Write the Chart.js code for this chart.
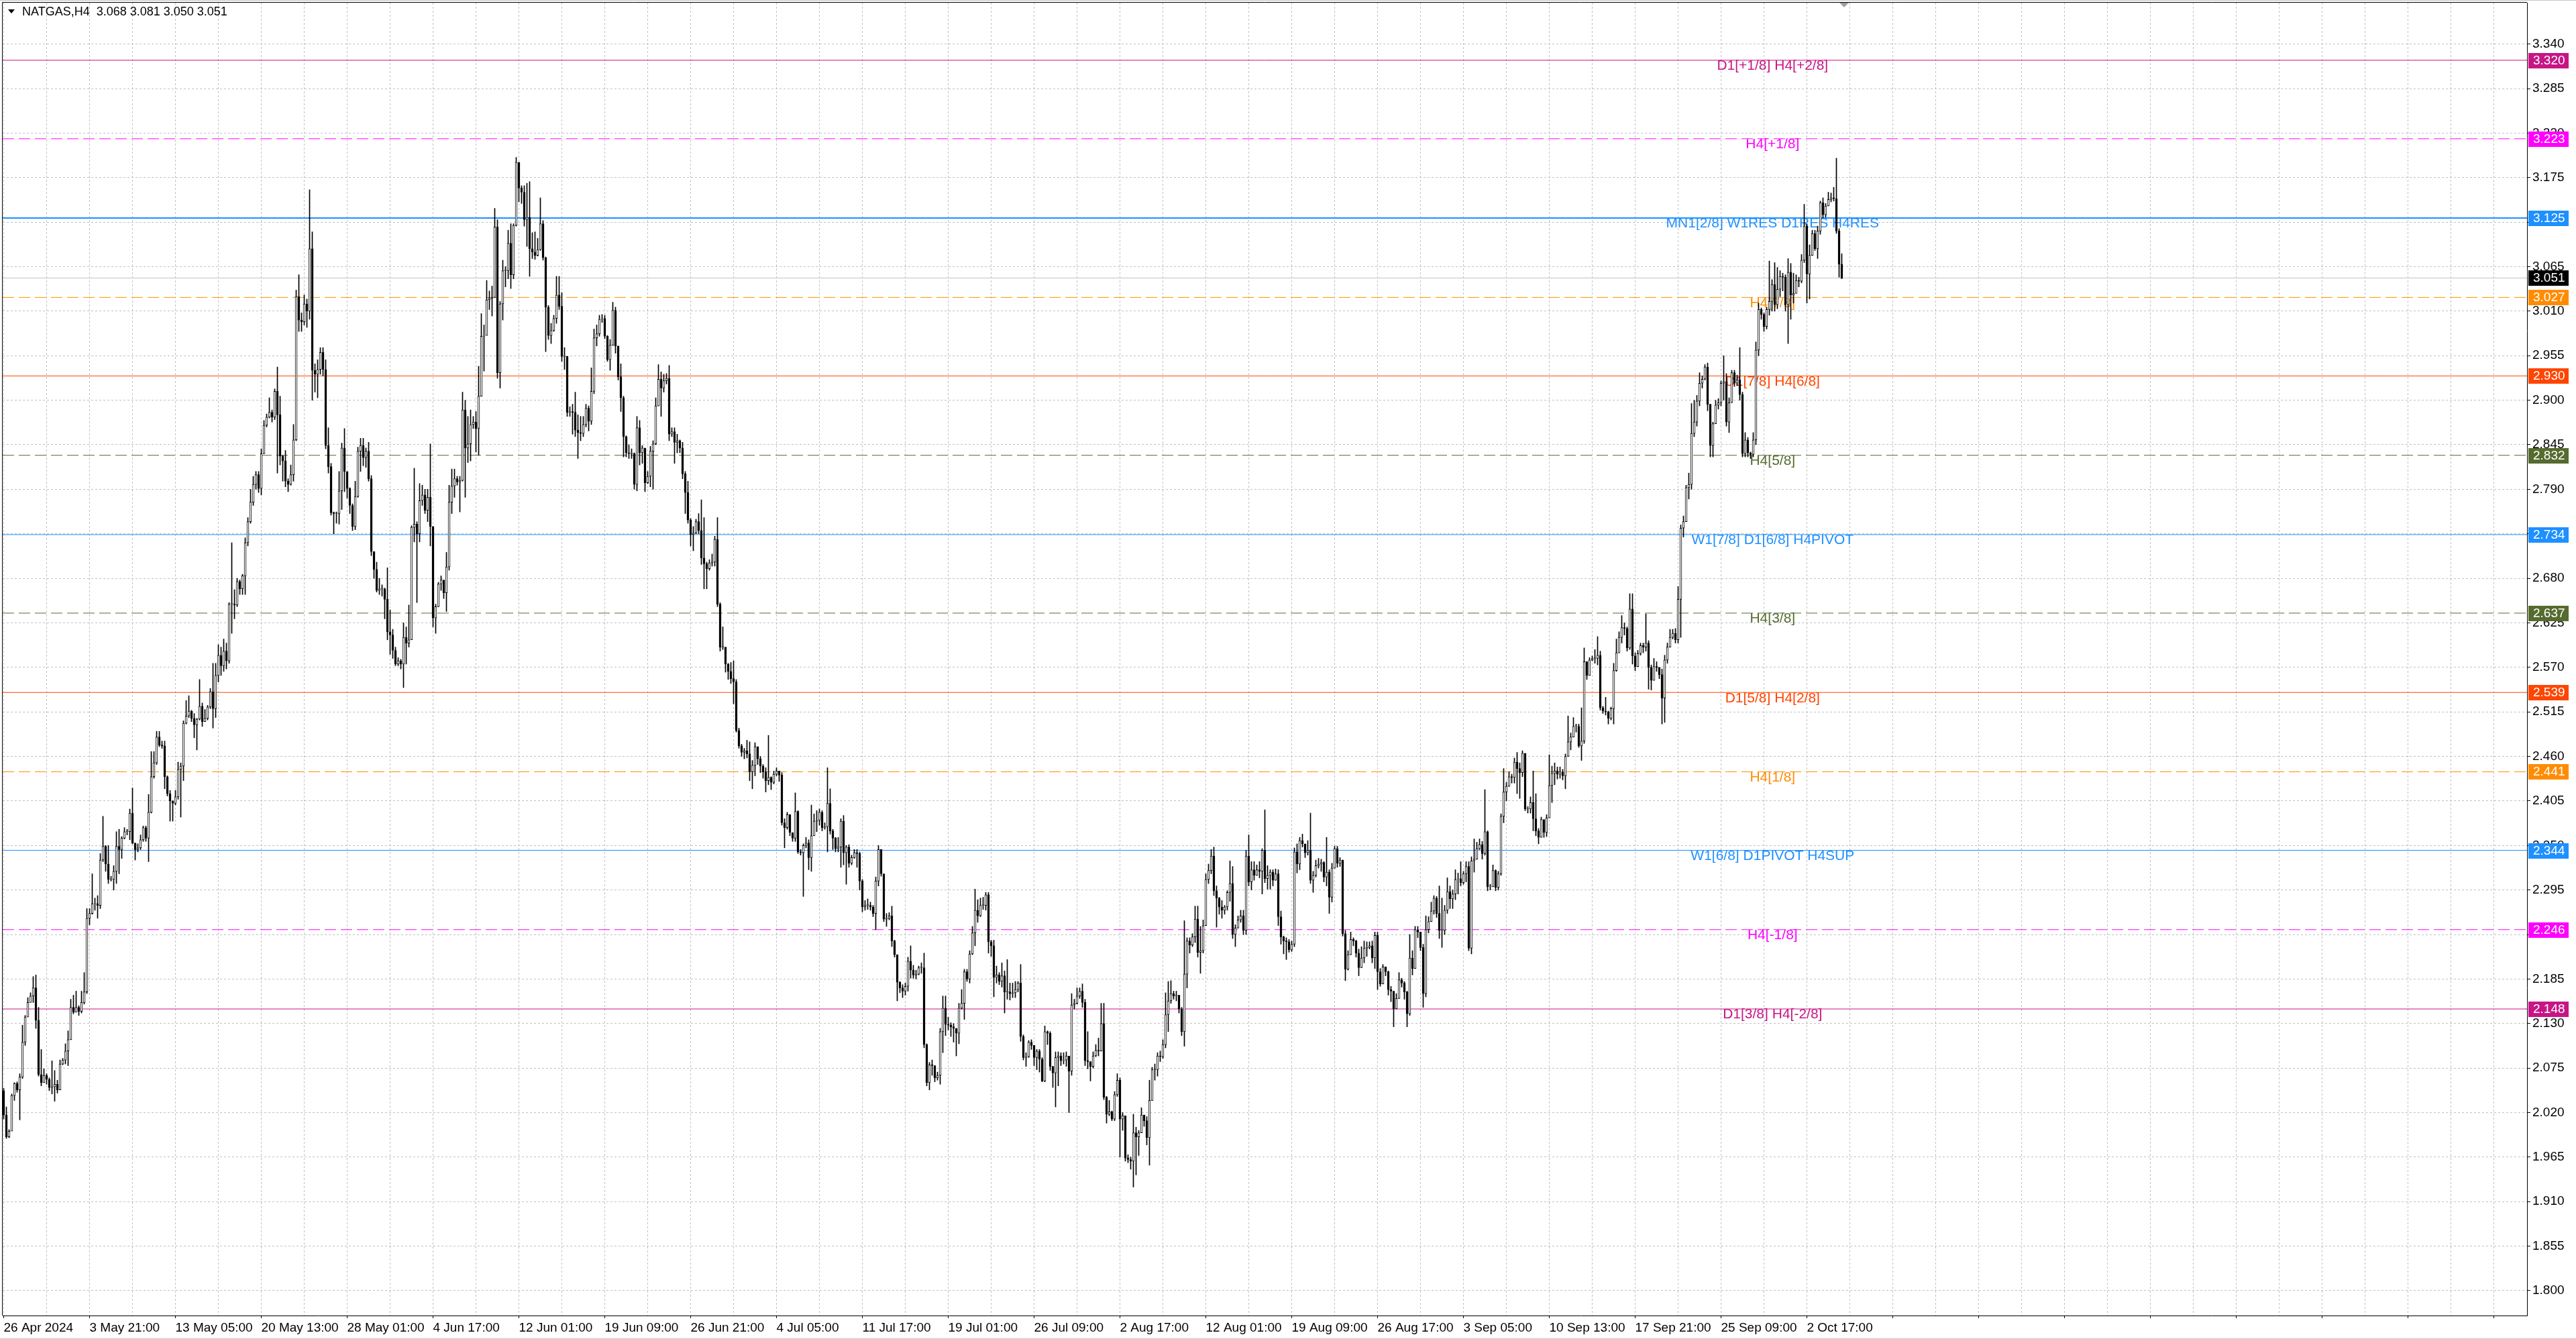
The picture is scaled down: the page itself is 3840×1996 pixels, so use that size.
<!DOCTYPE html>
<html>
<head>
<meta charset="utf-8">
<script src="https://cdn.jsdelivr.net/npm/chart.js@4.4.1/dist/chart.umd.min.js"></script>
<style>
html, body { margin: 0; padding: 0; background: #fff; overflow: hidden; }
#wrap { position: relative; width: 3840px; height: 1996px; }
</style>
</head>
<body>
<div id="wrap"><canvas id="priceChart"></canvas></div>
<script>
// NATGAS H4 candles (open = previous close)
var firstOpen = 2.047;

var closes = [
  2.017,1.990,1.997,2.041,2.056,2.048,2.064,2.107,2.138,2.156,
  2.164,2.174,2.134,2.067,2.057,2.066,2.061,2.051,2.052,2.055,
  2.048,2.080,2.085,2.096,2.110,2.150,2.144,2.150,2.145,2.156,
  2.169,2.260,2.266,2.278,2.278,2.276,2.332,2.349,2.327,2.308,
  2.308,2.318,2.349,2.345,2.359,2.367,2.367,2.390,2.353,2.345,
  2.347,2.357,2.372,2.359,2.391,2.435,2.452,2.484,2.474,2.473,
  2.435,2.414,2.405,2.402,2.410,2.444,2.448,2.501,2.510,2.516,
  2.507,2.499,2.506,2.522,2.503,2.507,2.521,2.540,2.519,2.560,
  2.585,2.572,2.590,2.578,2.648,2.648,2.647,2.676,2.667,2.683,
  2.724,2.750,2.774,2.796,2.808,2.791,2.834,2.869,2.879,2.885,
  2.879,2.911,2.882,2.831,2.825,2.800,2.796,2.808,2.851,3.028,
  2.999,2.997,3.019,3.010,3.087,2.937,2.932,2.938,2.959,2.938,
  2.844,2.818,2.761,2.760,2.760,2.788,2.841,2.812,2.791,2.770,
  2.744,2.781,2.837,2.844,2.829,2.837,2.803,2.713,2.691,2.665,
  2.667,2.667,2.654,2.614,2.610,2.591,2.574,2.578,2.574,2.607,
  2.600,2.604,2.743,2.747,2.735,2.776,2.783,2.764,2.780,2.744,
  2.631,2.645,2.673,2.678,2.662,2.694,2.774,2.794,2.803,2.799,
  2.801,2.888,2.841,2.846,2.870,2.873,2.865,2.905,2.979,2.980,
  3.024,3.026,3.027,3.114,2.934,3.019,3.060,3.060,3.094,3.055,
  3.116,3.194,3.162,3.157,3.123,3.126,3.087,3.083,3.079,3.086,
  3.118,3.076,3.015,2.980,2.986,3.001,3.030,3.016,2.954,2.954,
  2.885,2.886,2.885,2.863,2.860,2.859,2.870,2.890,2.874,2.911,
  2.977,2.982,3.000,3.001,2.979,2.950,2.968,3.011,2.967,2.929,
  2.903,2.855,2.835,2.834,2.834,2.796,2.866,2.835,2.841,2.798,
  2.806,2.837,2.846,2.893,2.926,2.915,2.924,2.927,2.858,2.861,
  2.848,2.850,2.841,2.809,2.786,2.752,2.734,2.736,2.750,2.739,
  2.705,2.698,2.692,2.699,2.700,2.728,2.648,2.595,2.595,2.574,
  2.565,2.556,2.552,2.492,2.473,2.465,2.467,2.463,2.441,2.449,
  2.472,2.457,2.448,2.441,2.430,2.434,2.428,2.438,2.442,2.437,
  2.378,2.372,2.388,2.366,2.359,2.392,2.342,2.341,2.350,2.353,
  2.335,2.362,2.380,2.381,2.391,2.372,2.373,2.402,2.368,2.359,
  2.346,2.348,2.380,2.341,2.348,2.328,2.335,2.341,2.340,2.306,
  2.274,2.276,2.276,2.274,2.266,2.306,2.345,2.315,2.259,2.260,
  2.263,2.232,2.215,2.181,2.174,2.170,2.176,2.207,2.196,2.190,
  2.191,2.199,2.199,2.104,2.057,2.079,2.078,2.063,2.066,2.120,
  2.149,2.129,2.128,2.126,2.124,2.118,2.149,2.155,2.194,2.185,
  2.216,2.242,2.270,2.263,2.276,2.276,2.289,2.231,2.226,2.187,
  2.190,2.182,2.189,2.169,2.169,2.167,2.168,2.172,2.180,2.114,
  2.088,2.089,2.107,2.103,2.088,2.096,2.086,2.059,2.120,2.118,
  2.077,2.069,2.088,2.090,2.084,2.085,2.090,2.071,2.153,2.155,
  2.164,2.170,2.156,2.084,2.083,2.077,2.090,2.097,2.096,2.130,
  2.039,2.018,2.021,2.012,2.042,2.060,2.012,2.016,1.964,1.962,
  1.960,1.995,1.990,1.995,2.017,2.010,1.989,2.035,2.073,2.073,
  2.090,2.089,2.104,2.141,2.158,2.167,2.164,2.165,2.148,2.120,
  2.191,2.232,2.227,2.237,2.259,2.218,2.220,2.251,2.308,2.319,
  2.337,2.294,2.285,2.274,2.270,2.274,2.292,2.303,2.240,2.248,
  2.258,2.263,2.245,2.337,2.305,2.320,2.313,2.320,2.318,2.344,
  2.309,2.313,2.317,2.307,2.315,2.262,2.237,2.232,2.231,2.221,
  2.228,2.342,2.327,2.356,2.352,2.341,2.344,2.307,2.313,2.325,
  2.327,2.329,2.311,2.317,2.286,2.322,2.346,2.328,2.332,2.241,
  2.197,2.215,2.234,2.232,2.217,2.199,2.211,2.223,2.224,2.226,
  2.211,2.239,2.194,2.179,2.200,2.194,2.172,2.170,2.148,2.161,
  2.184,2.180,2.169,2.142,2.211,2.198,2.246,2.243,2.224,2.167,
  2.246,2.256,2.269,2.285,2.266,2.245,2.245,2.270,2.293,2.284,
  2.290,2.308,2.309,2.304,2.315,2.324,2.223,2.331,2.333,2.346,
  2.351,2.340,2.367,2.299,2.299,2.319,2.298,2.315,2.386,2.416,
  2.423,2.435,2.434,2.453,2.445,2.440,2.464,2.395,2.395,2.403,
  2.383,2.368,2.360,2.382,2.366,2.384,2.424,2.439,2.442,2.438,
  2.441,2.436,2.460,2.478,2.484,2.497,2.497,2.473,2.479,2.577,
  2.560,2.579,2.581,2.581,2.585,2.520,2.516,2.515,2.507,2.519,
  2.566,2.588,2.607,2.619,2.618,2.594,2.642,2.584,2.571,2.587,
  2.597,2.595,2.600,2.570,2.554,2.571,2.570,2.561,2.532,2.579,
  2.595,2.607,2.612,2.604,2.654,2.742,2.750,2.792,2.796,2.859,
  2.873,2.899,2.921,2.926,2.941,2.895,2.844,2.871,2.894,2.897,
  2.921,2.923,2.873,2.897,2.934,2.921,2.925,2.907,2.834,2.851,
  2.835,2.833,2.851,2.962,3.012,3.006,2.991,3.012,3.022,3.043,
  3.018,3.037,3.053,3.052,3.018,3.058,3.030,3.032,3.048,3.047,
  3.073,3.115,3.056,3.079,3.106,3.087,3.109,3.144,3.129,3.140,
  3.148,3.150,3.149,3.109,3.068,3.051
];

var highs = [
  2.050,2.027,1.999,2.043,2.057,2.058,2.068,2.128,2.140,2.162,
  2.168,2.188,2.190,2.150,2.098,2.074,2.068,2.063,2.084,2.072,
  2.060,2.085,2.087,2.105,2.121,2.160,2.165,2.170,2.152,2.170,
  2.193,2.272,2.272,2.315,2.285,2.288,2.340,2.386,2.350,2.350,
  2.312,2.325,2.367,2.370,2.361,2.372,2.370,2.395,2.421,2.352,
  2.352,2.363,2.374,2.374,2.413,2.466,2.466,2.491,2.491,2.479,
  2.479,2.436,2.418,2.405,2.418,2.453,2.452,2.504,2.529,2.535,
  2.517,2.513,2.507,2.555,2.526,2.518,2.523,2.544,2.575,2.575,
  2.598,2.595,2.605,2.600,2.650,2.724,2.666,2.680,2.678,2.685,
  2.730,2.755,2.790,2.806,2.812,2.812,2.840,2.875,2.883,2.903,
  2.888,2.914,2.941,2.905,2.832,2.838,2.803,2.820,2.870,3.036,
  3.055,3.008,3.030,3.025,3.160,3.108,2.945,2.950,2.965,2.965,
  2.950,2.866,2.822,2.762,2.762,2.812,2.847,2.865,2.808,2.792,
  2.772,2.800,2.842,2.853,2.853,2.841,2.848,2.807,2.713,2.700,
  2.680,2.672,2.668,2.693,2.641,2.617,2.595,2.582,2.580,2.625,
  2.620,2.647,2.745,2.816,2.750,2.797,2.795,2.790,2.790,2.846,
  2.744,2.648,2.675,2.683,2.675,2.712,2.795,2.815,2.815,2.806,
  2.806,2.910,2.900,2.880,2.888,2.880,2.886,2.942,3.007,2.993,
  3.048,3.035,3.041,3.137,3.123,3.022,3.073,3.065,3.110,3.118,
  3.118,3.200,3.170,3.165,3.165,3.168,3.170,3.107,3.108,3.100,
  3.150,3.122,3.077,3.017,2.995,3.005,3.053,3.053,3.033,2.965,
  2.903,2.892,2.895,2.910,2.882,2.880,2.880,2.895,2.893,2.940,
  2.988,2.993,3.005,3.006,3.005,2.980,2.975,3.021,3.015,2.967,
  2.945,2.905,2.856,2.845,2.840,2.835,2.880,2.875,2.844,2.801,
  2.812,2.843,2.850,2.903,2.944,2.935,2.932,2.933,2.943,2.866,
  2.866,2.858,2.851,2.848,2.812,2.800,2.754,2.744,2.753,2.760,
  2.777,2.755,2.700,2.703,2.710,2.732,2.755,2.650,2.620,2.586,
  2.575,2.576,2.578,2.555,2.495,2.475,2.470,2.480,2.478,2.455,
  2.477,2.472,2.460,2.450,2.446,2.486,2.435,2.442,2.446,2.442,
  2.440,2.383,2.391,2.380,2.364,2.415,2.393,2.345,2.352,2.360,
  2.357,2.400,2.389,2.393,2.395,2.393,2.378,2.446,2.420,2.370,
  2.360,2.360,2.383,2.387,2.350,2.351,2.338,2.345,2.345,2.342,
  2.308,2.282,2.284,2.280,2.276,2.311,2.350,2.342,2.273,2.266,
  2.267,2.275,2.233,2.215,2.182,2.178,2.180,2.212,2.226,2.202,
  2.196,2.201,2.205,2.217,2.105,2.082,2.085,2.078,2.070,2.124,
  2.164,2.164,2.138,2.131,2.130,2.124,2.155,2.172,2.197,2.197,
  2.220,2.250,2.296,2.283,2.285,2.286,2.292,2.292,2.233,2.233,
  2.201,2.193,2.205,2.195,2.209,2.180,2.180,2.182,2.182,2.203,
  2.116,2.094,2.109,2.110,2.102,2.098,2.098,2.088,2.127,2.121,
  2.120,2.077,2.095,2.095,2.094,2.094,2.095,2.089,2.167,2.160,
  2.174,2.174,2.179,2.160,2.120,2.083,2.095,2.104,2.112,2.155,
  2.155,2.040,2.035,2.022,2.046,2.068,2.063,2.020,1.996,1.968,
  1.965,2.018,2.002,1.998,2.026,2.017,2.015,2.060,2.076,2.080,
  2.094,2.096,2.110,2.168,2.182,2.183,2.170,2.170,2.165,2.150,
  2.257,2.236,2.236,2.241,2.275,2.275,2.250,2.258,2.315,2.327,
  2.345,2.348,2.300,2.286,2.282,2.276,2.294,2.331,2.324,2.252,
  2.263,2.270,2.270,2.344,2.363,2.330,2.330,2.326,2.330,2.346,
  2.394,2.325,2.320,2.320,2.321,2.320,2.269,2.238,2.236,2.234,
  2.232,2.347,2.352,2.360,2.364,2.351,2.356,2.390,2.318,2.332,
  2.334,2.333,2.330,2.360,2.320,2.328,2.349,2.349,2.335,2.332,
  2.245,2.220,2.243,2.236,2.233,2.222,2.225,2.232,2.231,2.231,
  2.232,2.243,2.243,2.198,2.203,2.200,2.195,2.176,2.170,2.167,
  2.193,2.186,2.182,2.170,2.240,2.220,2.250,2.250,2.242,2.228,
  2.263,2.262,2.280,2.288,2.287,2.300,2.285,2.276,2.310,2.300,
  2.295,2.320,2.316,2.330,2.318,2.330,2.330,2.336,2.358,2.354,
  2.358,2.355,2.419,2.368,2.302,2.326,2.320,2.318,2.389,2.445,
  2.428,2.441,2.438,2.458,2.465,2.452,2.467,2.410,2.398,2.410,
  2.442,2.414,2.371,2.385,2.373,2.388,2.462,2.448,2.452,2.447,
  2.447,2.444,2.463,2.510,2.489,2.508,2.500,2.500,2.520,2.594,
  2.575,2.582,2.584,2.592,2.608,2.590,2.522,2.533,2.516,2.521,
  2.575,2.605,2.614,2.634,2.625,2.620,2.661,2.661,2.588,2.591,
  2.600,2.600,2.636,2.603,2.573,2.581,2.577,2.570,2.568,2.585,
  2.600,2.617,2.617,2.618,2.670,2.746,2.757,2.795,2.810,2.896,
  2.900,2.906,2.934,2.930,2.944,2.946,2.895,2.873,2.900,2.902,
  2.924,2.955,2.933,2.903,2.937,2.937,2.931,2.965,2.910,2.860,
  2.854,2.836,2.860,2.972,3.020,3.014,3.008,3.015,3.072,3.049,
  3.070,3.064,3.060,3.057,3.055,3.075,3.069,3.057,3.055,3.052,
  3.080,3.142,3.118,3.092,3.110,3.110,3.115,3.146,3.150,3.143,
  3.157,3.156,3.163,3.199,3.112,3.081
];

var lows = [
  2.012,1.988,1.989,2.015,2.035,2.045,2.011,2.062,2.103,2.141,
  2.157,2.156,2.124,2.065,2.053,2.059,2.055,2.047,2.043,2.034,
  2.044,2.059,2.079,2.080,2.078,2.110,2.142,2.145,2.140,2.143,
  2.154,2.167,2.252,2.265,2.270,2.260,2.272,2.330,2.318,2.303,
  2.306,2.295,2.303,2.315,2.334,2.358,2.363,2.357,2.352,2.332,
  2.342,2.345,2.355,2.355,2.330,2.390,2.433,2.450,2.472,2.470,
  2.420,2.411,2.380,2.380,2.400,2.407,2.385,2.430,2.500,2.508,
  2.503,2.483,2.468,2.505,2.497,2.503,2.505,2.519,2.495,2.508,
  2.552,2.560,2.565,2.568,2.575,2.612,2.630,2.645,2.660,2.660,
  2.660,2.720,2.748,2.770,2.790,2.786,2.783,2.834,2.867,2.878,
  2.873,2.876,2.810,2.820,2.800,2.793,2.787,2.795,2.800,2.850,
  2.985,2.985,2.993,2.990,3.000,2.900,2.910,2.903,2.932,2.930,
  2.840,2.810,2.758,2.735,2.748,2.747,2.765,2.787,2.779,2.760,
  2.739,2.740,2.780,2.812,2.819,2.817,2.800,2.708,2.680,2.663,
  2.660,2.658,2.630,2.604,2.586,2.581,2.572,2.572,2.568,2.545,
  2.574,2.595,2.700,2.725,2.650,2.725,2.770,2.760,2.750,2.720,
  2.620,2.612,2.645,2.665,2.655,2.639,2.690,2.760,2.780,2.795,
  2.762,2.800,2.780,2.823,2.825,2.865,2.836,2.832,2.905,2.936,
  2.995,3.012,3.004,3.027,2.927,2.915,2.999,3.040,3.050,3.038,
  3.050,3.115,3.145,3.143,3.115,3.090,3.053,3.075,3.074,3.078,
  3.085,3.073,2.960,2.975,2.970,2.985,2.995,3.012,2.948,2.938,
  2.880,2.880,2.858,2.855,2.828,2.850,2.855,2.867,2.862,2.870,
  2.908,2.967,2.979,2.996,2.976,2.948,2.937,2.968,2.958,2.925,
  2.886,2.830,2.830,2.828,2.828,2.790,2.788,2.820,2.822,2.787,
  2.797,2.793,2.790,2.845,2.893,2.880,2.910,2.920,2.850,2.855,
  2.822,2.835,2.835,2.803,2.760,2.748,2.720,2.714,2.735,2.735,
  2.697,2.667,2.667,2.690,2.695,2.695,2.645,2.590,2.592,2.564,
  2.555,2.550,2.525,2.490,2.470,2.460,2.457,2.458,2.430,2.420,
  2.436,2.450,2.440,2.433,2.416,2.425,2.419,2.426,2.436,2.429,
  2.375,2.347,2.370,2.362,2.355,2.355,2.340,2.338,2.287,2.347,
  2.320,2.318,2.362,2.367,2.375,2.368,2.370,2.342,2.364,2.345,
  2.342,2.342,2.323,2.326,2.302,2.323,2.326,2.334,2.323,2.295,
  2.268,2.270,2.271,2.270,2.262,2.246,2.300,2.312,2.256,2.250,
  2.258,2.225,2.212,2.158,2.168,2.162,2.165,2.170,2.186,2.186,
  2.185,2.190,2.192,2.100,2.053,2.048,2.066,2.058,2.060,2.055,
  2.094,2.115,2.122,2.114,2.107,2.090,2.105,2.148,2.135,2.182,
  2.180,2.215,2.226,2.255,2.262,2.271,2.270,2.217,2.213,2.163,
  2.180,2.178,2.175,2.143,2.160,2.159,2.162,2.162,2.169,2.108,
  2.085,2.077,2.088,2.098,2.078,2.073,2.070,2.058,2.058,2.104,
  2.072,2.051,2.027,2.053,2.078,2.080,2.077,2.020,2.066,2.148,
  2.154,2.161,2.150,2.078,2.074,2.059,2.075,2.089,2.090,2.096,
  2.036,2.007,2.016,2.010,2.010,2.040,1.965,1.998,1.960,1.958,
  1.950,1.928,1.943,1.967,1.995,2.003,1.980,1.955,2.035,2.060,
  2.065,2.083,2.087,2.100,2.120,2.155,2.160,2.158,2.143,2.115,
  2.102,2.174,2.217,2.225,2.230,2.212,2.192,2.217,2.251,2.303,
  2.315,2.288,2.249,2.265,2.260,2.265,2.270,2.281,2.235,2.225,
  2.248,2.255,2.240,2.240,2.300,2.295,2.307,2.313,2.310,2.290,
  2.304,2.296,2.296,2.300,2.307,2.251,2.228,2.216,2.209,2.218,
  2.219,2.225,2.316,2.320,2.348,2.335,2.338,2.303,2.292,2.311,
  2.322,2.318,2.305,2.300,2.266,2.280,2.322,2.323,2.324,2.238,
  2.183,2.196,2.215,2.226,2.212,2.189,2.199,2.205,2.213,2.222,
  2.205,2.198,2.172,2.176,2.179,2.189,2.165,2.157,2.126,2.148,
  2.161,2.175,2.160,2.126,2.140,2.190,2.198,2.236,2.220,2.150,
  2.163,2.242,2.256,2.265,2.261,2.235,2.224,2.240,2.266,2.272,
  2.272,2.283,2.290,2.300,2.302,2.305,2.220,2.216,2.317,2.333,
  2.345,2.333,2.338,2.294,2.295,2.299,2.294,2.295,2.313,2.378,
  2.405,2.423,2.427,2.427,2.414,2.408,2.435,2.393,2.390,2.390,
  2.368,2.362,2.352,2.360,2.360,2.361,2.384,2.403,2.425,2.432,
  2.433,2.431,2.420,2.460,2.468,2.484,2.490,2.471,2.455,2.476,
  2.555,2.560,2.578,2.575,2.573,2.517,2.513,2.511,2.500,2.505,
  2.500,2.565,2.588,2.600,2.610,2.590,2.592,2.574,2.566,2.571,
  2.585,2.588,2.590,2.543,2.542,2.554,2.565,2.556,2.500,2.502,
  2.575,2.595,2.605,2.600,2.600,2.607,2.731,2.750,2.778,2.790,
  2.855,2.868,2.893,2.915,2.925,2.887,2.830,2.830,2.871,2.889,
  2.893,2.900,2.868,2.860,2.897,2.917,2.918,2.900,2.830,2.830,
  2.830,2.828,2.830,2.845,2.955,3.000,2.985,2.988,3.005,3.010,
  3.010,3.013,3.028,3.035,3.010,2.970,3.000,3.020,3.040,3.040,
  3.045,3.070,3.020,3.025,3.080,3.085,3.075,3.105,3.125,3.126,
  3.140,3.145,3.146,3.106,3.052,3.050
];

// one label every 32 bars
var timeLabels = [
  '26 Apr 2024', '3 May 21:00', '13 May 05:00', '20 May 13:00', '28 May 01:00',
  '4 Jun 17:00', '12 Jun 01:00', '19 Jun 09:00', '26 Jun 21:00', '4 Jul 05:00',
  '11 Jul 17:00', '19 Jul 01:00', '26 Jul 09:00', '2 Aug 17:00', '12 Aug 01:00',
  '19 Aug 09:00', '26 Aug 17:00', '3 Sep 05:00', '10 Sep 13:00', '17 Sep 21:00',
  '25 Sep 09:00', '2 Oct 17:00'
];

var priceTicks = [
  1.800, 1.855, 1.910, 1.965, 2.020, 2.075, 2.130, 2.185, 2.240, 2.295,
  2.350, 2.405, 2.460, 2.515, 2.570, 2.625, 2.680, 2.735, 2.790, 2.845,
  2.900, 2.955, 3.010, 3.065, 3.120, 3.175, 3.230, 3.285, 3.340
];

// Murrey math levels
var levelPrices = [3.320, 3.223, 3.125, 3.027, 2.930, 2.832, 2.734, 2.637, 2.539, 2.441, 2.344, 2.246, 2.148];
var levelNames = [
  'D1[+1/8] H4[+2/8]', 'H4[+1/8]', 'MN1[2/8] W1RES D1RES H4RES', 'H4[7/8]',
  'D1[7/8] H4[6/8]', 'H4[5/8]', 'W1[7/8] D1[6/8] H4PIVOT', 'H4[3/8]',
  'D1[5/8] H4[2/8]', 'H4[1/8]', 'W1[6/8] D1PIVOT H4SUP', 'H4[-1/8]', 'D1[3/8] H4[-2/8]'
];
var lastPrice = 3.051;

// styles
var levelColors = ['#C71585', '#FF00FF', '#1E90FF', '#FF8C00', '#FF4500', '#556B2F', '#1E90FF',
                   '#556B2F', '#FF4500', '#FF8C00', '#1E90FF', '#FF00FF', '#C71585'];
var levelDashed = [false, true, false, true, false, true, false, true, false, true, false, true, false];
var levelWidth = [1, 1, 2, 1, 1, 1, 1, 1, 1, 1, 1, 1, 1];

var X_MIN = -0.375, X_MAX = 940.375;
var LABEL_BAR = 659.2;
var FONT = '"Liberation Sans", Arial, sans-serif';

var opens = closes.map(function (c, i) { return i === 0 ? firstOpen : closes[i - 1]; });
var bodies = closes.map(function (c, i) { return { x: i, y: [opens[i], c] }; });
var wicks = closes.map(function (c, i) { return { x: i, y: [lows[i], highs[i]] }; });
var bodyFill = closes.map(function (c, i) { return c >= opens[i] ? '#ffffff' : '#000000'; });

var datasets = [
  {
    type: 'bar', data: bodies, backgroundColor: bodyFill, borderColor: '#000000',
    borderWidth: 1, borderSkipped: false, barThickness: 3, minBarLength: 1,
    grouped: false, order: 0
  },
  {
    type: 'bar', data: wicks, backgroundColor: '#000000', borderWidth: 0,
    barThickness: 1, grouped: false, order: 1
  }
];

levelPrices.forEach(function (p, k) {
  datasets.push({
    type: 'line', data: [{ x: X_MIN, y: p }, { x: X_MAX, y: p }],
    borderColor: levelColors[k], borderWidth: levelWidth[k],
    borderDash: levelDashed[k] ? [17, 7] : [], pointRadius: 0, order: 2
  });
});
datasets.push({
  type: 'line', data: [{ x: X_MIN, y: lastPrice }, { x: X_MAX, y: lastPrice }],
  borderColor: '#C0C0C0', borderWidth: 1, pointRadius: 0, order: 3
});

var overlay = {
  id: 'overlay',
  beforeDatasetsDraw: function (chart) {
    var ctx = chart.ctx, x = chart.scales.x, y = chart.scales.y;
    ctx.save();
    ctx.font = '21px ' + FONT;
    ctx.textAlign = 'center';
    ctx.textBaseline = 'top';
    levelPrices.forEach(function (p, k) {
      ctx.fillStyle = levelColors[k];
      ctx.fillText(levelNames[k], x.getPixelForValue(LABEL_BAR), y.getPixelForValue(p) - 2);
    });
    ctx.restore();
  },
  afterDraw: function (chart) {
    var ctx = chart.ctx, area = chart.chartArea, y = chart.scales.y;
    ctx.save();
    // frame
    ctx.strokeStyle = '#000000';
    ctx.lineWidth = 1;
    ctx.beginPath();
    ctx.moveTo(3.5, area.bottom);
    ctx.lineTo(3.5, 3.5);
    ctx.lineTo(area.right, 3.5);
    ctx.stroke();
    ctx.strokeStyle = '#C8C8C8';
    ctx.beginPath();
    ctx.moveTo(0, 0.5); ctx.lineTo(3840, 0.5);
    ctx.moveTo(0, 1995.5); ctx.lineTo(3840, 1995.5);
    ctx.stroke();

    // shift marker
    ctx.fillStyle = '#A0A0A0';
    ctx.beginPath();
    ctx.moveTo(2742, 4); ctx.lineTo(2756, 4); ctx.lineTo(2749, 11);
    ctx.closePath(); ctx.fill();

    // header
    ctx.fillStyle = '#000000';
    ctx.beginPath();
    ctx.moveTo(12, 14); ctx.lineTo(22, 14); ctx.lineTo(17, 20);
    ctx.closePath(); ctx.fill();
    ctx.font = '18px ' + FONT;
    ctx.textAlign = 'left';
    ctx.textBaseline = 'middle';
    ctx.fillText('NATGAS,H4  3.068 3.081 3.050 3.051', 33, 18);

    // price boxes on the axis
    var boxes = levelPrices.map(function (p, k) { return { p: p, c: levelColors[k] }; });
    boxes.push({ p: lastPrice, c: '#000000' });
    ctx.font = '19px ' + FONT;
    boxes.forEach(function (b) {
      var py = Math.round(y.getPixelForValue(b.p));
      ctx.fillStyle = b.c;
      ctx.fillRect(area.right + 2, py - 11, 60, 23);
      ctx.fillStyle = '#ffffff';
      ctx.fillText(b.p.toFixed(3), area.right + 9, py + 1);
    });
    ctx.restore();
  }
};

Chart.defaults.font.family = FONT;
Chart.defaults.color = '#000000';

new Chart(document.getElementById('priceChart'), {
  type: 'bar',
  data: { datasets: datasets },
  plugins: [overlay],
  options: {
    responsive: true,
    maintainAspectRatio: false,
    animation: false,
    events: [],
    layout: { padding: { left: 4, top: 4, right: 0, bottom: 0 } },
    plugins: { legend: { display: false }, tooltip: { enabled: false } },
    scales: {
      x: {
        type: 'linear', min: X_MIN, max: X_MAX, offset: false,
        afterBuildTicks: function (scale) {
          var t = [];
          for (var v = 0; v <= X_MAX; v += 16) t.push({ value: v });
          scale.ticks = t;
        },
        afterFit: function (scale) {
          scale.height = 35;
          scale.paddingLeft = 0;
          scale.paddingRight = 0;
        },
        grid: {
          offset: false, color: '#C0C0C0', lineWidth: 1, tickLength: 4,
          tickColor: function (c) { return c.tick && c.tick.value % 32 === 0 ? '#000000' : 'rgba(0,0,0,0)'; },
          tickBorderDash: []
        },
        border: { display: true, color: '#000000', width: 1, dash: [3, 3] },
        ticks: {
          autoSkip: false, maxRotation: 0, minRotation: 0, align: 'start', padding: 3,
          font: { size: 19 }, color: '#000000',
          callback: function (v) { return v % 32 === 0 ? (timeLabels[v / 32] || '') : ''; }
        }
      },
      y: {
        type: 'linear', position: 'right', min: 1.7693, max: 3.3911, beginAtZero: false,
        afterBuildTicks: function (scale) {
          scale.ticks = priceTicks.map(function (v) { return { value: v }; });
        },
        afterFit: function (scale) {
          scale.width = 73;
          scale.paddingTop = 0;
          scale.paddingBottom = 0;
        },
        grid: { color: '#C0C0C0', lineWidth: 1, tickLength: 5, tickColor: '#000000', tickBorderDash: [] },
        border: { display: true, color: '#000000', width: 1, dash: [3, 3] },
        ticks: {
          autoSkip: false, padding: 3, font: { size: 19 }, color: '#000000',
          callback: function (v) { return Number(v).toFixed(3); }
        }
      }
    }
  }
});
</script>
</body>
</html>
